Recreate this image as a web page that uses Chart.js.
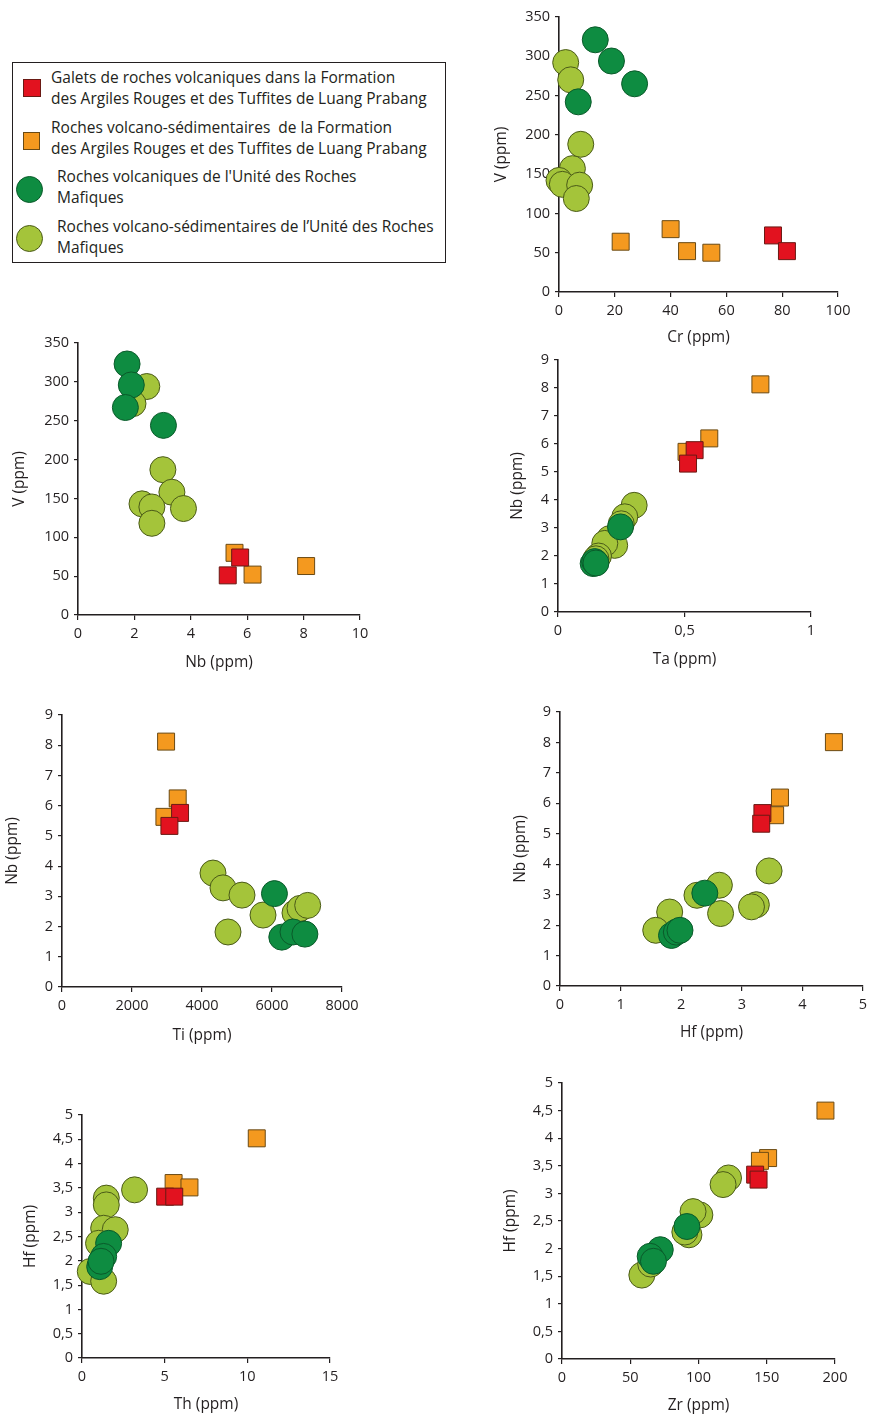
<!DOCTYPE html>
<html><head><meta charset="utf-8">
<script src="https://cdn.jsdelivr.net/npm/chart.js@4.4.1/dist/chart.umd.min.js"></script>
<style>
html,body{margin:0;padding:0;background:#fff;}
body{width:869px;height:1416px;position:relative;overflow:hidden;font-family:"Open Sans",sans-serif;color:#231f20;}
.panel{position:absolute;}
.panel canvas{display:block;}
#legend{position:absolute;left:12px;top:62px;width:432px;height:199px;border:1.5px solid #231f20;box-sizing:content-box;}
.lg-sw{position:absolute;box-sizing:border-box;}
.lg-tx{position:absolute;font-size:15.5px;line-height:21px;white-space:nowrap;color:#231f20;}
</style></head><body>
<div id="legend"></div>
<script>
// ---------- series ----------
const seriesNames = [
  ["Galets de roches volcaniques dans la Formation", "des Argiles Rouges et des Tuffites de Luang Prabang"],
  ["Roches volcano-sédimentaires  de la Formation", "des Argiles Rouges et des Tuffites de Luang Prabang"],
  ["Roches volcaniques de l'Unité des Roches", "Mafiques"],
  ["Roches volcano-sédimentaires de l’Unité des Roches", "Mafiques"]
];

// ---------- axis labels ----------
const axisTitles = {
  cr: "Cr (ppm)", v: "V (ppm)", nb: "Nb (ppm)", ta: "Ta (ppm)",
  ti: "Ti (ppm)", hf: "Hf (ppm)", th: "Th (ppm)", zr: "Zr (ppm)"
};

// ---------- panel 1 : V vs Cr  ([Cr, V]) ----------
const crV_red    = [[76.7,72],[81.7,52]];
const crV_orange = [[22.1,64],[40.0,80],[45.9,52],[54.6,50]];
const crV_dark   = [[13.0,321],[18.8,294],[27.1,265],[6.9,242]];
const crV_light  = [[2.4,292],[4.2,270],[7.8,188],[4.8,157],[0,142],[1.2,137],[7.4,136],[6.2,119]];

// ---------- panel 2 : V vs Nb  ([Nb, V]) ----------
const nbV_red    = [[5.75,74],[5.31,51]];
const nbV_orange = [[5.55,80],[6.19,52],[8.09,63]];
const nbV_dark   = [[1.74,323],[1.89,296],[1.68,267],[3.03,244]];
const nbV_light  = [[2.44,294],[1.95,272],[3.01,187],[3.33,158],[2.27,143],[2.62,139],[3.74,137],[2.62,118]];

// ---------- panel 3 : Nb vs Ta  ([Ta, Nb]) ----------
const taNb_red    = [[0.54,5.78],[0.514,5.30]];
const taNb_orange = [[0.80,8.13],[0.598,6.20],[0.508,5.72]];
const taNb_dark   = [[0.247,3.04],[0.139,1.73],[0.145,1.80],[0.15,1.75]];
const taNb_light  = [[0.301,3.81],[0.264,3.40],[0.25,3.15],[0.204,2.62],[0.224,2.38],[0.185,2.45],[0.16,2.0],[0.15,1.9]];

// ---------- panel 4 : Nb vs Ti  ([Ti, Nb]) ----------
const tiNb_red    = [[3373,5.76],[3069,5.33]];
const tiNb_orange = [[2974,8.12],[3306,6.24],[2926,5.63]];
const tiNb_dark   = [[6070,3.09],[6280,1.65],[6600,1.82],[6940,1.75]];
const tiNb_light  = [[4314,3.77],[4600,3.28],[5143,3.04],[5743,2.38],[4743,1.82],[6657,2.45],[6800,2.6],[7020,2.7]];

// ---------- panel 5 : Nb vs Hf  ([Hf, Nb]) ----------
const hfNb_red    = [[3.34,5.68],[3.32,5.33]];
const hfNb_orange = [[4.52,8.01],[3.63,6.19],[3.55,5.61]];
const hfNb_dark   = [[2.39,3.05],[1.84,1.66],[1.92,1.77],[1.98,1.83]];
const hfNb_light  = [[3.45,3.78],[3.24,2.67],[3.16,2.6],[2.63,3.31],[2.65,2.38],[2.26,2.98],[1.81,2.43],[1.58,1.83]];

// ---------- panel 6 : Hf vs Th  ([Th, Hf]) ----------
const thHf_red    = [[5.03,3.32],[5.58,3.32]];
const thHf_orange = [[10.57,4.52],[5.54,3.60],[6.50,3.51]];
const thHf_dark   = [[1.61,2.36],[1.31,2.09],[1.07,1.88],[1.15,1.99]];
const thHf_light  = [[3.18,3.46],[1.47,3.29],[1.47,3.15],[1.31,2.67],[2.01,2.64],[1.0,2.36],[0.5,1.78],[1.31,1.58]];

// ---------- panel 7 : Hf vs Zr  ([Zr, Hf]) ----------
const zrHf_red    = [[141.5,3.34],[144,3.25]];
const zrHf_orange = [[193,4.50],[151,3.64],[145,3.59]];
const zrHf_dark   = [[91.5,2.40],[72,1.98],[64.6,1.86],[67,1.77]];
const zrHf_light  = [[122,3.28],[118,3.16],[101,2.61],[96,2.67],[93,2.25],[58.5,1.52],[65,1.72],[90,2.3]];

// ---------- axis ranges / tick steps ----------
const rangeCr = [0,100,20], rangeV = [0,350,50], rangeNb10 = [0,10,2], rangeNb9 = [0,9,1];
const rangeTa = [0,1,0.5], rangeTi = [0,8000,2000], rangeHf5 = [0,5,1], rangeHfY = [0,5,0.5];
const rangeTh = [0,15,5], rangeZr = [0,200,50];

// ---------- styles ----------
const INK = "#231f20";
const FONT = "'Open Sans', sans-serif";
const styles = [
  {shape:"rect",   r:12,  fill:"#e2121f", stroke:"#6a1a14"},
  {shape:"rect",   r:12,  fill:"#f4991f", stroke:"#6a4a14"},
  {shape:"circle", r:13,  fill:"#0e8c41", stroke:"#0a5a2a"},
  {shape:"circle", r:13,  fill:"#a4c43a", stroke:"#4a5a18"}
];

// ---------- legend (HTML) ----------
(function(){
  const lg = document.getElementById('legend');
  const sw = [
    {l:10, t:16, w:18, h:18},
    {l:10, t:69, w:17, h:18},
    {l:3,  t:113, w:27, h:27},
    {l:3,  t:162, w:27, h:27}
  ];
  const tx = [{l:38, t:4},{l:38, t:54},{l:44, t:103},{l:44, t:153}];
  seriesNames.forEach((nm,i)=>{
    const s = document.createElement('div');
    s.className='lg-sw';
    Object.assign(s.style,{left:sw[i].l+'px',top:sw[i].t+'px',width:sw[i].w+'px',height:sw[i].h+'px',
      background:styles[i].fill,border:'1px solid '+styles[i].stroke,borderRadius:styles[i].shape==='circle'?'50%':'0'});
    lg.appendChild(s);
    const t = document.createElement('div');
    t.className='lg-tx';
    t.style.left = tx[i].l+'px'; t.style.top = tx[i].t+'px';
    t.innerHTML = nm.map(x=>x.replace(/&/g,'&amp;').replace(/</g,'&lt;').replace(/  /g,' &nbsp;')).join('<br>');
    lg.appendChild(t);
  });
})();

// ---------- panels ----------
const panels = [
  {box:[559,17,838,292],  xr:rangeCr,  yr:rangeV,    xt:axisTitles.cr, yt:axisTitles.v,  series:[crV_red,crV_orange,crV_dark,crV_light],     xto:46, yto:57},
  {box:[78,343,360,615],  xr:rangeNb10,yr:rangeV,    xt:axisTitles.nb, yt:axisTitles.v,  series:[nbV_red,nbV_orange,nbV_dark,nbV_light],     xto:48, yto:58},
  {box:[558,360,811,612], xr:rangeTa,  yr:rangeNb9,  xt:axisTitles.ta, yt:axisTitles.nb, series:[taNb_red,taNb_orange,taNb_dark,taNb_light], xto:48, yto:40},
  {box:[62,715,342,987],  xr:rangeTi,  yr:rangeNb9,  xt:axisTitles.ti, yt:axisTitles.nb, series:[tiNb_red,tiNb_orange,tiNb_dark,tiNb_light], xto:49, yto:49},
  {box:[560,712,863,986], xr:rangeHf5, yr:rangeNb9,  xt:axisTitles.hf, yt:axisTitles.nb, series:[hfNb_red,hfNb_orange,hfNb_dark,hfNb_light], xto:47, yto:39},
  {box:[82,1115,330,1358],xr:rangeTh,  yr:rangeHfY,  xt:axisTitles.th, yt:axisTitles.hf, series:[thHf_red,thHf_orange,thHf_dark,thHf_light], xto:47, yto:51},
  {box:[562,1083,835,1359],xr:rangeZr, yr:rangeHfY,  xt:axisTitles.zr, yt:axisTitles.hf, series:[zrHf_red,zrHf_orange,zrHf_dark,zrHf_light], xto:47, yto:51}
];

const fmt = v => String(Math.round(v*1000)/1000).replace('.', ',');

function axisOpts(range, title, isX, off, PADL, PADB){
  const TF = 15.5, LH = TF*1.2;
  const pad = isX ? (PADB - off - LH/2) : (PADL - off - LH/2);
  return {
    type:'linear', min:range[0], max:range[1],
    afterFit: s => { if (isX) s.height = PADB; else s.width = PADL; },
    ticks:{stepSize:range[2], callback:fmt, color:INK, padding: isX ? 5 : 5,
           font:{family:FONT, size:14.5}, maxRotation:0, autoSkip:false, includeBounds:true},
    grid:{display:true, drawOnChartArea:false, drawTicks:true, tickLength:isX?5:4, color:INK, lineWidth:1.2},
    border:{display:true, color:INK, width:1.6},
    title:{display:true, text:title, color:INK, font:{family:FONT, size:TF, lineHeight:1.2},
           padding: isX ? {top:0, bottom:pad} : {top:pad, bottom:0}}
  };
}

panels.forEach(p=>{
  const PADL = 75, PADT = 20, PADR = 30, PADB = 65;
  const W = p.box[2]-p.box[0], H = p.box[3]-p.box[1];
  const wrap = document.createElement('div');
  wrap.className='panel';
  Object.assign(wrap.style,{left:(p.box[0]-PADL)+'px', top:(p.box[1]-PADT)+'px',
    width:(W+PADL+PADR)+'px', height:(H+PADT+PADB)+'px'});
  const cv = document.createElement('canvas');
  wrap.appendChild(cv);
  document.body.appendChild(wrap);
  new Chart(cv, {
    type:'scatter',
    data:{datasets: p.series.map((pts,i)=>({
      label: seriesNames[i].join(' '),
      data: pts.map(([x,y])=>({x,y})),
      pointStyle: styles[i].shape, pointRadius: styles[i].r, pointHoverRadius: styles[i].r,
      backgroundColor: styles[i].fill, borderColor: styles[i].stroke, borderWidth: 1,
      clip: false
    }))},
    options:{
      responsive:true, maintainAspectRatio:false, animation:false, events:[],
      layout:{padding:{top:PADT, right:PADR, left:0, bottom:0}},
      plugins:{legend:{display:false}, tooltip:{enabled:false}},
      scales:{
        x: axisOpts(p.xr, p.xt, true, p.xto, PADL, PADB),
        y: axisOpts(p.yr, p.yt, false, p.yto, PADL, PADB)
      }
    }
  });
});
</script>
</body></html>
